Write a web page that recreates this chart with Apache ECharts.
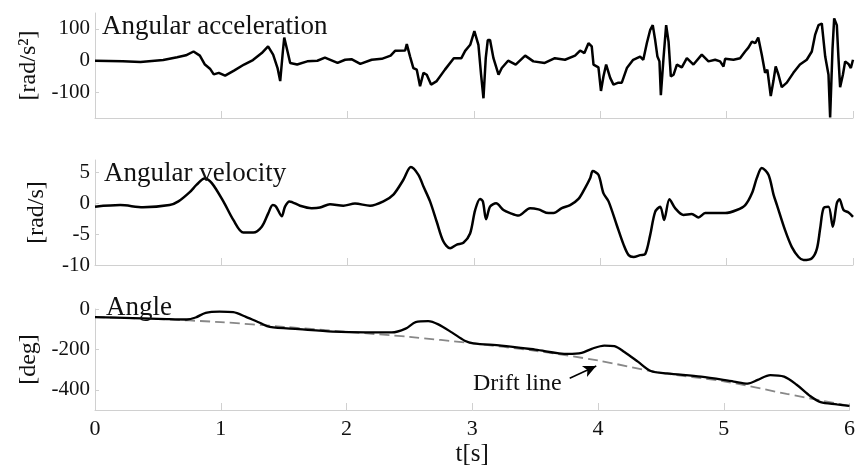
<!DOCTYPE html>
<html>
<head>
<meta charset="utf-8">
<script src="https://cdn.jsdelivr.net/npm/echarts@6/dist/echarts.min.js"></script>
<style>
html,body{margin:0;padding:0;background:#fff;}
#chart{width:858px;height:468px;}
</style>
</head>
<body>
<div id="chart"></div>
<script>
// ---- Data ----
const accT = [0,0.22,0.36,0.54,0.65,0.72,0.78,0.83,0.87,0.91,0.94,0.98,1.03,1.10,1.18,1.25,1.32,1.37,1.41,1.445,1.466,1.487,1.498,1.524,1.545,1.60,1.68,1.76,1.82,1.92,1.98,2.03,2.10,2.19,2.27,2.34,2.375,2.455,2.468,2.494,2.52,2.547,2.573,2.60,2.626,2.66,2.705,2.77,2.84,2.90,2.93,2.97,3.003,3.035,3.056,3.075,3.093,3.109,3.127,3.154,3.194,3.22,3.27,3.33,3.405,3.47,3.56,3.64,3.72,3.80,3.84,3.874,3.906,3.932,3.946,3.985,4.005,4.025,4.046,4.078,4.104,4.143,4.17,4.21,4.26,4.315,4.34,4.368,4.394,4.415,4.434,4.452,4.468,4.479,4.50,4.521,4.54,4.558,4.58,4.606,4.645,4.685,4.737,4.803,4.856,4.909,4.948,4.975,4.988,5.054,5.106,5.146,5.172,5.20,5.226,5.25,5.278,5.304,5.322,5.349,5.37,5.388,5.41,5.436,5.476,5.528,5.58,5.634,5.674,5.70,5.727,5.753,5.78,5.806,5.819,5.838,5.851,5.872,5.885,5.898,5.92,5.938,5.964,5.983,6.0];
const accV = [0,-2,-4,2,11,17,29,16,-12,-25,-43,-38,-47,-31,-12,2,24,45,19,-23,-64,29,73,29,-7,-12,-2,0,10,-7,3,5,-10,3,6,16,31,32,52,13,-23,-28,-80,-38,-44,-75,-64,-28,8,8,31,50,93,50,-44,-118,8,65,65,8,-44,-23,0,-12,16,-2,-7,8,3,16,32,24,55,45,-12,-21,-95,-49,-12,-54,-75,-69,-69,-23,3,13,3,55,96,112,65,13,-2,-108,8,112,60,-49,-44,-12,-21,8,-12,19,-2,3,-2,-18,6,3,8,29,41,60,55,73,19,-38,-28,-111,-64,-18,-44,-83,-69,-38,-12,3,29,81,112,117,13,-44,-178,39,133,112,8,-83,-44,-2,-10,-23,3];

const velT = [0,0.2,0.38,0.59,0.66,0.75,0.805,0.866,0.923,1.016,1.095,1.174,1.253,1.32,1.372,1.407,1.433,1.478,1.504,1.539,1.623,1.715,1.781,1.86,1.966,2.058,2.177,2.283,2.362,2.441,2.5,2.56,2.6,2.652,2.705,2.758,2.811,2.864,2.916,2.969,3.009,3.048,3.07,3.096,3.127,3.175,3.233,3.286,3.352,3.444,3.51,3.59,3.63,3.695,3.761,3.827,3.88,3.92,3.94,3.985,4.025,4.065,4.131,4.184,4.224,4.263,4.316,4.356,4.394,4.434,4.474,4.505,4.547,4.592,4.658,4.724,4.777,4.83,4.922,4.988,5.08,5.147,5.2,5.239,5.278,5.331,5.371,5.398,5.463,5.516,5.569,5.609,5.675,5.714,5.74,5.767,5.806,5.84,5.872,5.893,5.925,5.965,6.0];
const velV = [-0.55,-0.3,-0.65,-0.3,0.3,1.8,3.0,4.0,3.3,0.3,-2.7,-4.75,-4.75,-3.8,-1.6,-0.3,-0.55,-2.1,-0.55,0.3,-0.4,-0.8,-0.7,-0.15,-0.4,-0.05,-0.4,0.3,1.4,3.8,5.85,4.6,2.7,0.3,-3.0,-6.2,-7.3,-6.7,-6.4,-4.9,-1.1,0.7,0.3,-2.6,-0.55,0,-1.1,-1.6,-2.0,-0.8,-1.0,-1.6,-1.6,-0.8,-0.3,0.7,2.5,4.1,5.2,4.6,1.6,0.3,-3.6,-6.7,-8.4,-8.7,-8.4,-8.2,-5.2,-1.4,-0.55,-2.7,0.66,-0.8,-1.9,-1.75,-2.3,-1.6,-1.6,-1.6,-1.1,-0.3,1.6,4.1,5.7,4.6,1.4,-0.3,-4.4,-7.1,-8.7,-9.2,-8.9,-7.4,-4.1,-0.8,-0.55,-3.8,0,0.66,-1.1,-1.5,-2.2];

const angT = [0,0.3,0.57,0.73,0.8,0.88,0.99,1.1,1.2,1.31,1.39,1.62,1.89,2.15,2.36,2.47,2.55,2.65,2.73,2.84,2.94,3.01,3.23,3.5,3.76,3.87,3.95,4.05,4.13,4.21,4.32,4.42,4.55,4.82,5.08,5.19,5.27,5.37,5.48,5.58,5.69,5.77,5.9,6.0];
const angV = [-40,-45,-50,-52,-42,-19,-13,-16,-39,-68,-89,-100,-112,-116,-116,-97,-65,-60,-76,-117,-157,-170,-181,-201,-222,-217,-197,-181,-184,-213,-262,-307,-319,-335,-359,-369,-351,-327,-335,-375,-432,-461,-472,-480];

const driftT = [0,0.5,1,1.5,2,2.5,3,3.5,4,4.5,5,5.5,6];
const driftV = [-40,-50,-65,-88,-113,-138,-170,-207,-255,-316,-358,-420,-480];

const xTicks = [0,1,2,3,4,5,6];
const accTicks = [-100,0,100];
const velTicks = [-10,-5,0,5];
const angTicks = [-400,-200,0];

const titles = ['Angular acceleration','Angular velocity','Angle'];
const yNames = ['[rad/s\u00B2]','[rad/s]','[deg]'];
const xName = 't[s]';
const driftLabel = 'Drift line';
const arrowFrom = [3.775,-343];
const arrowTo = [3.986,-282];

// ---- Build ----
const zip = (a,b) => a.map((t,i) => [t,b[i]]);
const FONT = 'Liberation Serif';
const AXC = '#d0d0d0';

function xAxis(idx, showLabels){
  return {
    type:'value', gridIndex:idx, min:0, max:6, interval:1,
    axisLine:{show:true, onZero:false, lineStyle:{color:AXC, width:1}},
    axisTick:{show:true, inside:true, length:7, lineStyle:{color:AXC}},
    splitLine:{show:false},
    axisLabel:{show:showLabels, fontFamily:FONT, fontSize:22, color:'#111', margin:8,
      customValues: xTicks},
    name: showLabels ? xName : '',
    nameLocation:'middle', nameGap:32,
    nameTextStyle:{fontFamily:FONT, fontSize:25, color:'#111'}
  };
}
function yAxis(idx, min, max, ticks, name){
  return {
    type:'value', gridIndex:idx, min:min, max:max,
    axisLine:{show:true, onZero:false, lineStyle:{color:AXC, width:1}},
    axisTick:{show:true, inside:true, length:4, lineStyle:{color:AXC}, customValues:ticks},
    axisLabel:{show:true, fontFamily:FONT, fontSize:21, color:'#111', margin:5, customValues:ticks},
    splitLine:{show:false},
    name:name, nameLocation:'middle', nameRotate:90, nameGap:46,
    nameTextStyle:{fontFamily:FONT, fontSize:24, color:'#111'}
  };
}

const chart = echarts.init(document.getElementById('chart'), null, {renderer:'canvas'});
chart.setOption({
  animation:false,
  backgroundColor:'#fff',
  title: titles.map((t,i) => ({
    text:t, left:[102,104,106][i], top:[13,160,294][i], padding:0,
    textStyle:{fontFamily:FONT, fontSize:27, fontWeight:'normal', color:'#111'}
  })),
  grid:[
    {left:95, right:5, top:13, height:105},
    {left:95, right:5, top:160, height:105},
    {left:95, right:5, top:309, height:103}
  ],
  xAxis:[xAxis(0,false), xAxis(1,false), xAxis(2,true)],
  yAxis:[
    yAxis(0,-180,150,accTicks,yNames[0]),
    yAxis(1,-10,7,velTicks,yNames[1]),
    yAxis(2,-500,0,angTicks,yNames[2])
  ],
  series:[
    {type:'line', xAxisIndex:0, yAxisIndex:0, data:zip(accT,accV), showSymbol:false,
     lineStyle:{color:'#000', width:2.5}, z:3},
    {type:'line', xAxisIndex:1, yAxisIndex:1, data:zip(velT,velV), showSymbol:false, smooth:0.3,
     lineStyle:{color:'#000', width:2.5}, z:3},
    {type:'line', xAxisIndex:2, yAxisIndex:2, data:zip(driftT,driftV), showSymbol:false, smooth:0.3,
     lineStyle:{color:'#888', width:1.8, type:[10,5]}, z:2,
     markLine:{silent:true, symbol:['none','arrow'], symbolSize:[9,13],
       lineStyle:{color:'#000', width:1.5, type:'solid'}, label:{show:false},
       data:[[{coord:arrowFrom},{coord:arrowTo}]]}},
    {type:'line', xAxisIndex:2, yAxisIndex:2, data:zip(angT,angV), showSymbol:false, smooth:0.3,
     lineStyle:{color:'#000', width:2.3}, z:3}
  ],
  graphic:[
    {type:'text', left:473, top:372, style:{text:driftLabel, font:'24px "Liberation Serif"', fill:'#111'}}
  ]
});
</script>
</body>
</html>
